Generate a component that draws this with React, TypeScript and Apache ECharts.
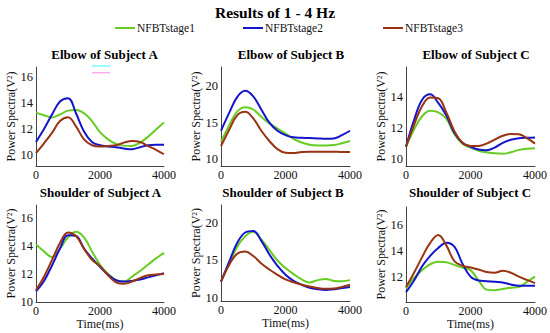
import React, { useEffect, useRef } from "react";
import * as echarts from "echarts";

const times = [0, 250, 500, 750, 1000, 1250, 1500, 1750, 2000, 2250, 2500, 2750, 3000, 3250, 3500, 3750, 4000];
const seriesNames = ["NFBTstage1", "NFBTstage2", "NFBTstage3"];
const seriesColors = ["#66cc22", "#1414cc", "#993311"];
const panelTitles = [
  "Elbow of Subject A", "Elbow of Subject B", "Elbow of Subject C",
  "Shoulder of Subject A", "Shoulder of Subject B", "Shoulder of Subject C",
];
const xTicks = [0, 2000, 4000];

// Elbow A
const elbowA1 = [13.25, 13.05, 12.88, 13.1, 13.4, 13.45, 13.2, 12.6, 11.75, 11.2, 10.85, 10.72, 10.7, 10.95, 11.4, 11.95, 12.5];
const elbowA2 = [11.0, 12.0, 13.1, 14.1, 14.35, 13.2, 11.8, 11.0, 10.75, 10.65, 10.6, 10.5, 10.45, 10.6, 10.75, 10.78, 10.78];
const elbowA3 = [10.15, 10.9, 11.7, 12.6, 12.9, 12.2, 11.2, 10.75, 10.65, 10.7, 10.75, 10.95, 11.07, 11.0, 10.7, 10.4, 10.06];
// Elbow B
const elbowB1 = [12.4, 14.6, 16.5, 17.1, 16.8, 15.8, 14.9, 14.2, 13.5, 12.8, 12.3, 12.0, 11.9, 11.9, 11.95, 12.2, 12.5];
const elbowB2 = [13.9, 16.3, 18.5, 19.35, 18.6, 16.8, 15.0, 13.9, 13.3, 13.0, 12.95, 12.9, 12.85, 12.8, 12.85, 13.3, 13.9];
const elbowB3 = [11.8, 14.0, 16.0, 16.5, 15.6, 13.9, 12.5, 11.4, 10.9, 10.85, 11.0, 11.05, 11.05, 11.05, 11.05, 11.0, 11.0];
// Elbow C
const elbowC1 = [10.8, 11.9, 12.75, 13.1, 13.0, 12.6, 11.6, 11.0, 10.75, 10.55, 10.45, 10.38, 10.35, 10.45, 10.6, 10.68, 10.7];
const elbowC2 = [10.8, 12.5, 13.8, 14.15, 13.6, 12.8, 11.7, 11.05, 10.8, 10.62, 10.58, 10.75, 11.05, 11.25, 11.35, 11.38, 11.4];
const elbowC3 = [10.8, 12.2, 13.4, 13.95, 13.9, 13.0, 11.8, 11.05, 10.85, 10.85, 11.0, 11.25, 11.5, 11.62, 11.6, 11.35, 11.0];
// Shoulder A
const shoulderA1 = [14.1, 13.6, 13.2, 13.8, 14.6, 15.0, 14.6, 13.6, 12.65, 12.0, 11.55, 11.45, 11.8, 12.2, 12.65, 13.1, 13.5];
const shoulderA2 = [10.75, 11.5, 12.6, 13.8, 14.75, 14.7, 13.8, 13.1, 12.5, 11.95, 11.55, 11.45, 11.5, 11.6, 11.75, 11.9, 12.05];
const shoulderA3 = [10.85, 11.8, 13.0, 14.2, 14.95, 14.7, 13.8, 13.0, 12.55, 11.9, 11.4, 11.3, 11.45, 11.7, 11.9, 11.95, 12.0];
// Shoulder B
const shoulderB1 = [12.2, 14.5, 16.8, 18.2, 18.8, 17.8, 16.4, 15.0, 14.0, 13.2, 12.5, 12.1, 12.4, 12.55, 12.3, 12.25, 12.4];
const shoulderB2 = [12.2, 14.8, 17.3, 18.7, 18.9, 17.6, 15.8, 14.3, 13.1, 12.3, 11.8, 11.4, 11.2, 11.1, 11.2, 11.35, 11.5];
const shoulderB3 = [12.2, 14.4, 15.9, 16.2, 15.6, 14.6, 13.8, 13.1, 12.5, 12.1, 11.8, 11.55, 11.35, 11.25, 11.3, 11.5, 11.8];
// Shoulder C
const shoulderC1 = [11.1, 11.9, 12.5, 12.95, 13.15, 13.1, 12.9, 12.7, 12.5, 11.7, 11.0, 10.95, 11.05, 11.15, 11.2, 11.6, 12.0];
const shoulderC2 = [10.8, 11.7, 12.8, 13.6, 14.2, 14.6, 14.3, 13.0, 12.0, 11.7, 11.65, 11.6, 11.55, 11.4, 11.3, 11.3, 11.3];
const shoulderC3 = [11.2, 12.3, 13.5, 14.6, 15.2, 14.4, 13.2, 12.85, 12.7, 12.55, 12.35, 12.3, 12.45, 12.3, 12.0, 11.75, 11.5];

const panelData = [
  [elbowA1, elbowA2, elbowA3],
  [elbowB1, elbowB2, elbowB3],
  [elbowC1, elbowC2, elbowC3],
  [shoulderA1, shoulderA2, shoulderA3],
  [shoulderB1, shoulderB2, shoulderB3],
  [shoulderC1, shoulderC2, shoulderC3],
];

const FONT = "Liberation Serif, Times New Roman, serif";

// layout (pixels) and y-axis settings per panel
const grids = [
  { left: 36, top: 67, width: 128, height: 99 },
  { left: 221, top: 67, width: 129, height: 99 },
  { left: 406, top: 67, width: 129, height: 99 },
  { left: 36, top: 205, width: 128, height: 97 },
  { left: 221, top: 205, width: 129, height: 96 },
  { left: 406, top: 207, width: 129, height: 95 },
];
const yCfg = [
  { min: 9.16, max: 16.74, step: 2, split: 4 },
  { min: 9.09, max: 22.6, step: 5, split: 3 },
  { min: 9.57, max: 15.9, step: 2, split: 3 },
  { min: 10, max: 16.9, step: 2, split: 4 },
  { min: 9.64, max: 22.34, step: 5, split: 3 },
  { min: 10.05, max: 17.35, step: 2, split: 4 },
];
const titlePos = [
  { x: 104.5, y: 54 }, { x: 291, y: 54 }, { x: 476, y: 54 },
  { x: 100.5, y: 192.5 }, { x: 283, y: 192.5 }, { x: 470, y: 192.5 },
];
const legendLeft = [115, 243, 383];

export default function App() {
  const ref = useRef<HTMLDivElement>(null);
  useEffect(() => {
    if (!ref.current) return;
    const chart = echarts.init(ref.current, undefined, { renderer: "svg" });
    const axisLine = { show: true, lineStyle: { color: "#444", width: 1 } };
    const xAxis = grids.map((_, i) => ({
      type: "value",
      gridIndex: i,
      min: 0,
      max: 4000,
      interval: 2000,
      axisLine,
      axisTick: { show: false },
      splitLine: { show: false },
      axisLabel: {
        fontFamily: FONT, fontSize: 12, color: "#111", margin: 3,
        formatter: (v: number) => (xTicks.includes(v) ? String(v) : ""),
      },
      name: i >= 3 ? "Time(ms)" : "",
      nameLocation: "middle",
      nameGap: 16,
      nameTextStyle: { fontFamily: FONT, fontSize: 12, color: "#111" },
    }));
    const yAxis = grids.map((_, i) => {
      const c = yCfg[i];
      return {
        type: "value",
        gridIndex: i,
        min: c.min,
        max: c.max,
        splitNumber: c.split,
        axisLine,
        axisTick: { show: false },
        splitLine: { show: false },
        axisLabel: {
          fontFamily: FONT, fontSize: 12.5, color: "#111", margin: 3,
          formatter: (v: number) => {
            const r = v / c.step;
            return Math.abs(r - Math.round(r)) < 1e-6 ? String(Math.round(v)) : "";
          },
        },
        name: "Power Spectra(V²)",
        nameLocation: "middle",
        nameRotate: 90,
        nameGap: 18,
        nameTextStyle: { fontFamily: FONT, fontSize: 12, color: "#111" },
      };
    });
    const series: any[] = [];
    panelData.forEach((panel, p) => {
      panel.forEach((vals, s) => {
        series.push({
          type: "line",
          name: seriesNames[s],
          xAxisIndex: p,
          yAxisIndex: p,
          smooth: 0.4,
          symbol: "none",
          lineStyle: { width: 2, color: seriesColors[s] },
          itemStyle: { color: seriesColors[s] },
          data: times.map((t, k) => [t, vals[k]]),
        });
      });
    });
    const graphic: any[] = [
      {
        type: "text", x: 275, y: 12.5,
        style: { text: "Results of 1 - 4 Hz", fontFamily: FONT, fontWeight: "bold", fontSize: 15.5, fill: "#000", textAlign: "center", textVerticalAlign: "middle" },
      },
      ...panelTitles.map((t, i) => ({
        type: "text", x: titlePos[i].x, y: titlePos[i].y,
        style: { text: t, fontFamily: FONT, fontWeight: "bold", fontSize: 13, fill: "#000", textAlign: "center", textVerticalAlign: "middle" },
      })),
      { type: "line", shape: { x1: 92, y1: 66, x2: 110, y2: 66 }, style: { stroke: "#77ffff", lineWidth: 1.5 } },
      { type: "line", shape: { x1: 92, y1: 72.7, x2: 110, y2: 72.7 }, style: { stroke: "#ffaaee", lineWidth: 1.5 } },
    ];
    chart.setOption({
      animation: false,
      backgroundColor: "#fff",
      grid: grids,
      xAxis,
      yAxis,
      legend: seriesNames.map((n, i) => ({
        data: [n],
        left: legendLeft[i],
        top: 22,
        icon: "rect",
        itemWidth: 20,
        itemHeight: 2,
        itemGap: 0,
        padding: 0,
        textStyle: { fontFamily: FONT, fontSize: 11.5, color: "#111", padding: [0, 0, 0, -3] },
      })),
      graphic,
      series,
    });
    return () => chart.dispose();
  }, []);
  return (
    <div
      ref={ref}
      style={{ position: "fixed", left: 0, top: 0, width: 550, height: 333, background: "#fff" }}
    />
  );
}
